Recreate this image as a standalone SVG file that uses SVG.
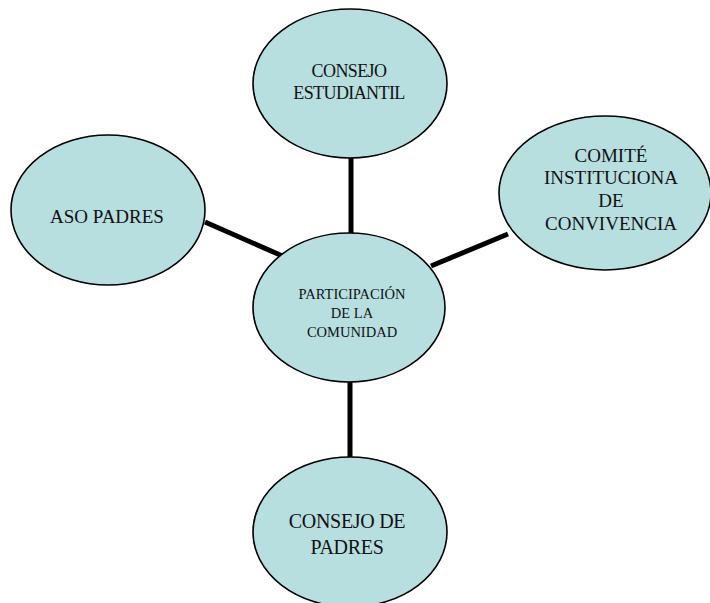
<svg xmlns="http://www.w3.org/2000/svg" width="710" height="603" viewBox="0 0 710 603">
<style>
.node ellipse{fill:#B7DFE0;stroke:#000;stroke-width:1.6}
.node text{font-family:"Liberation Serif","Times New Roman",serif;fill:#111;text-anchor:middle}
.conn line{stroke:#000;stroke-width:5;stroke-linecap:butt}
</style>
<rect width="710" height="603" fill="#fff"/>
<g id="connectors" class="conn">
<line x1="351" y1="157" x2="351" y2="234"/>
<line x1="205" y1="222" x2="287" y2="258"/>
<line x1="431" y1="266" x2="508" y2="234"/>
<line x1="350" y1="381" x2="350" y2="458"/>
</g>
<g id="consejo-estudiantil" class="node">
<ellipse cx="350" cy="83.5" rx="97" ry="74.5"/>
<text font-size="18" letter-spacing="-0.6" x="349" y="77">CONSEJO</text>
<text font-size="18" letter-spacing="-0.6" x="349" y="99">ESTUDIANTIL</text>
</g>
<g id="comite" class="node">
<ellipse cx="605" cy="193" rx="106" ry="77"/>
<text font-size="19" x="611" y="162">COMITÉ</text>
<text font-size="19" x="611" y="184">INSTITUCIONA</text>
<text font-size="19" x="611" y="207">DE</text>
<text font-size="19" x="611" y="230">CONVIVENCIA</text>
</g>
<g id="aso-padres" class="node">
<ellipse cx="108" cy="210" rx="97" ry="75"/>
<text font-size="19" x="107" y="223">ASO PADRES</text>
</g>
<g id="participacion" class="node">
<ellipse cx="349" cy="307.5" rx="96" ry="74.5"/>
<text font-size="14.5" x="352" y="299">PARTICIPACIÓN</text>
<text font-size="14.5" x="352" y="318">DE LA</text>
<text font-size="14.5" x="352" y="337">COMUNIDAD</text>
</g>
<g id="consejo-padres" class="node">
<ellipse cx="350" cy="532" rx="97" ry="75"/>
<text font-size="20" letter-spacing="-0.3" x="347" y="528">CONSEJO DE</text>
<text font-size="20" letter-spacing="-0.3" x="347" y="554">PADRES</text>
</g>
</svg>
